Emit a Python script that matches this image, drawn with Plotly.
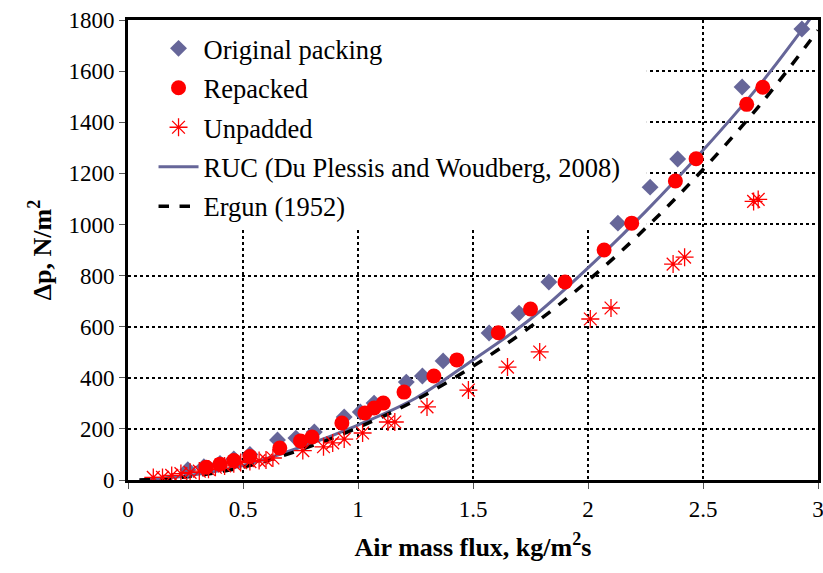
import plotly.graph_objects as go

# ---------------- data ----------------
orig_x = [0.26, 0.33, 0.40, 0.46, 0.53, 0.65, 0.73, 0.81, 0.94, 1.01, 1.07, 1.21, 1.28,
          1.37, 1.57, 1.70, 1.83, 2.13, 2.27, 2.39, 2.67, 2.93]
orig_y = [40, 52, 65, 82, 100, 157, 164, 188, 247, 266, 301, 383, 407,
          466, 575, 653, 775, 1005, 1146, 1256, 1538, 1765]

rep_x = [0.34, 0.40, 0.46, 0.53, 0.66, 0.75, 0.80, 0.93, 1.03, 1.07, 1.11, 1.20, 1.33,
         1.43, 1.61, 1.75, 1.90, 2.07, 2.19, 2.38, 2.47, 2.69, 2.76]
rep_y = [50, 62, 76, 92, 125, 153, 168, 223, 262, 282, 301, 344, 407,
         470, 576, 669, 775, 900, 1005, 1170, 1257, 1470, 1537]

unp_x = [0.11, 0.15, 0.19, 0.23, 0.27, 0.31, 0.35, 0.38, 0.42, 0.46, 0.49, 0.53, 0.57,
         0.60, 0.63, 0.76, 0.85, 0.89, 0.94, 1.02, 1.13, 1.16, 1.30, 1.48, 1.65, 1.79,
         2.01, 2.10, 2.37, 2.42, 2.72, 2.74]
unp_y = [10, 10, 18, 25, 30, 35, 42, 50, 55, 64, 68, 72, 76,
         78, 86, 115, 130, 145, 160, 184, 227, 227, 286, 352, 442, 501,
         630, 673, 845, 872, 1090, 1098]

ruc_x = [0.05, 0.25, 0.5, 0.75, 1.0, 1.25, 1.5, 1.75, 2.0, 2.25, 2.5, 2.75, 2.97]
ruc_y = [0, 16, 57, 128, 215, 320, 470, 630, 830, 1050, 1290, 1550, 1810]

erg_x = [0.05, 0.25, 0.5, 0.75, 1.0, 1.25, 1.5, 1.75, 2.0, 2.25, 2.5, 2.75, 3.0]
erg_y = [0, 12, 50, 118, 205, 312, 445, 600, 780, 985, 1215, 1470, 1760]

x_ticks = [0, 0.5, 1, 1.5, 2, 2.5, 3]
y_ticks = [0, 200, 400, 600, 800, 1000, 1200, 1400, 1600, 1800]

SLATE = "#666699"
FONT = "Times New Roman, Liberation Serif, serif"

fig = go.Figure()
fig.add_trace(go.Scatter(x=ruc_x, y=ruc_y, mode="lines", name="RUC (Du Plessis and Woudberg, 2008)",
                         line=dict(color=SLATE, width=3, shape="spline"), legendrank=4,
                         legendgroup="d"))
fig.add_trace(go.Scatter(x=erg_x, y=erg_y, mode="lines", name="Ergun (1952)",
                         line=dict(color="black", width=3.5, dash="dash", shape="spline"),
                         legendrank=5, legendgroup="e"))
fig.add_trace(go.Scatter(x=orig_x, y=orig_y, mode="markers", name="Original packing",
                         marker=dict(symbol="diamond", size=13, color=SLATE), legendrank=1,
                         legendgroup="a"))
fig.add_trace(go.Scatter(x=rep_x, y=rep_y, mode="markers", name="Repacked",
                         marker=dict(symbol="circle", size=15, color="#ff0000"), legendrank=2,
                         legendgroup="b"))
fig.add_trace(go.Scatter(x=unp_x, y=unp_y, mode="markers", name="Unpadded",
                         marker=dict(symbol="asterisk-open", size=15, color="#ff0000",
                                     line=dict(color="#ff0000", width=1.3)), legendrank=3,
                         legendgroup="c"))

fig.update_layout(
    width=823, height=573,
    margin=dict(l=128, r=5, t=20, b=93),
    paper_bgcolor="white", plot_bgcolor="white",
    font=dict(family=FONT, size=22, color="black"),
    showlegend=True,
    legend=dict(x=0.037, y=0.99, xanchor="left", yanchor="top", bgcolor="rgba(0,0,0,0)",
                font=dict(family=FONT, size=26.5), tracegroupgap=2, itemwidth=40),
    # white box behind the legend that hides the grid there (sits under the data)
    shapes=[dict(type="rect", xref="x", yref="y", x0=0, x1=2.256, y0=990, y1=1800,
                 fillcolor="white", line=dict(width=0), layer="between")],
)
fig.update_xaxes(range=[0, 3], tickvals=x_ticks, showgrid=True, gridcolor="black", gridwidth=2,
                 griddash="dot", showline=True, linecolor="black", linewidth=3, mirror=True,
                 ticks="outside", ticklen=6, tickcolor="#555555", zeroline=False,
                 automargin=False, ticklabeloverflow="allow", tickfont=dict(size=23),
                 title=dict(text="<b>Air mass flux, kg/m<sup>2</sup>s</b>", font=dict(size=26),
                            standoff=18))
fig.update_yaxes(range=[0, 1800], tickvals=y_ticks, showgrid=True, gridcolor="black", gridwidth=2,
                 griddash="dot", showline=True, linecolor="black", linewidth=3, mirror=True,
                 ticks="outside", ticklen=6, tickcolor="#555555", zeroline=False,
                 automargin=False, ticklabeloverflow="allow", tickfont=dict(size=23),
                 title=dict(text="<b>Δp, N/m<sup>2</sup></b>", font=dict(size=26), standoff=10))

fig.write_html("out.html")
